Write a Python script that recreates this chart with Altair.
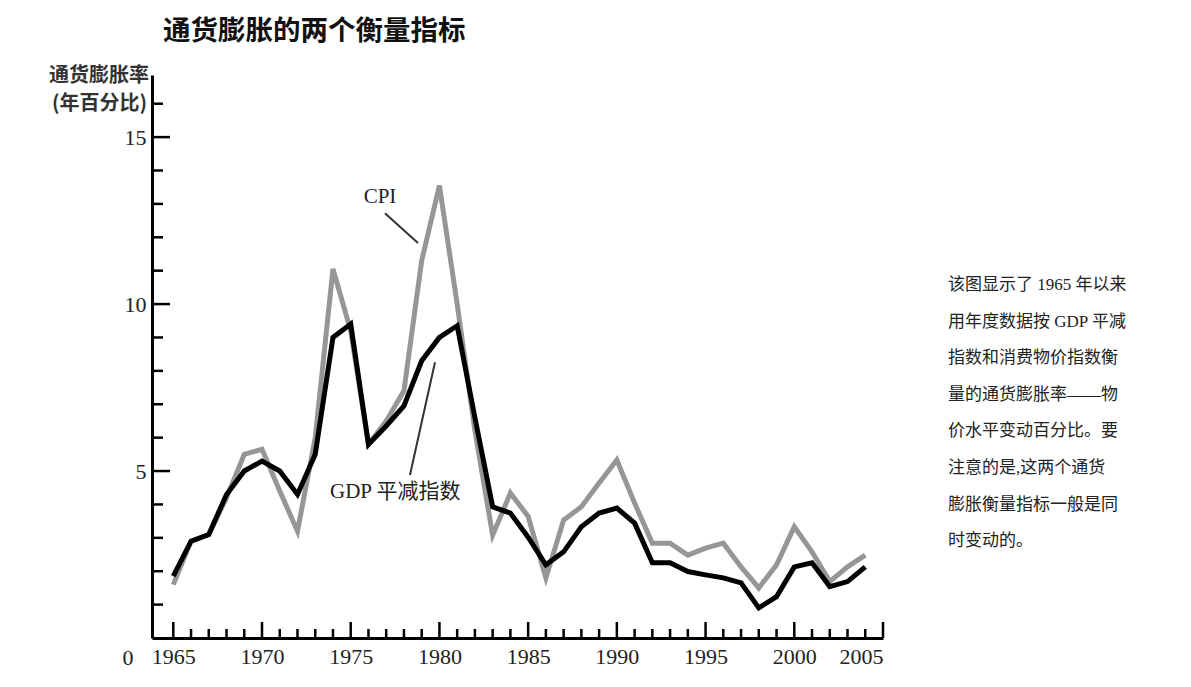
import altair as alt
import pandas as pd

# ---- data ----
years = list(range(1965, 2005))
gdp_deflator = [1.85, 2.9, 3.1, 4.3, 5.0, 5.3, 5.0, 4.3, 5.5, 9.0,
                9.4, 5.8, 6.35, 6.95, 8.3, 9.0, 9.35, 6.6, 3.93, 3.74,
                3.02, 2.19, 2.58, 3.33, 3.74, 3.89, 3.44, 2.25, 2.25, 1.99,
                1.89, 1.8, 1.65, 0.9, 1.24, 2.13, 2.25, 1.54, 1.69, 2.13]
cpi = [1.6, 2.9, 3.1, 4.2, 5.5, 5.65, 4.4, 3.2, 6.0, 11.05,
       9.2, 5.8, 6.5, 7.4, 11.3, 13.55, 10.0, 6.2, 3.08, 4.34,
       3.64, 1.8, 3.53, 3.93, 4.64, 5.33, 4.04, 2.84, 2.84, 2.48,
       2.69, 2.84, 2.13, 1.5, 2.19, 3.33, 2.58, 1.69, 2.13, 2.48]

x_label_values = [1965, 1970, 1975, 1980, 1985, 1990, 1995, 2000, 2005]
y_label_values = [5, 10, 15]
x_tick_years = list(range(1965, 2006))
y_tick_values = list(range(1, 17))

ann_text = ["CPI", "GDP 平减指数"]
ann_x = [1976.65, 1973.83]
ann_y = [13.2, 4.37]
leader_x = [1976.93, 1979.75]
leader_y = [12.72, 8.26]
leader_x2 = [1978.79, 1978.34]
leader_y2 = [11.83, 4.88]

title_text = "通货膨胀的两个衡量指标"
ytitle_lines = ["通货膨胀率", "(年百分比)"]
note_lines = ["该图显示了 1965 年以来", "用年度数据按 GDP 平减", "指数和消费物价指数衡",
              "量的通货膨胀率——物", "价水平变动百分比。要", "注意的是,这两个通货",
              "膨胀衡量指标一般是同", "时变动的。"]

W, H = 731, 563
SERIF = "Liberation Serif, Noto Sans CJK SC"
CJK = "Noto Sans CJK SC"

df = pd.DataFrame({"year": years, "gdp": gdp_deflator, "cpi": cpi})
xt = pd.DataFrame({"year": x_tick_years})
yt = pd.DataFrame({"v": y_tick_values})
ann = pd.DataFrame({"t": ann_text, "year": ann_x, "v": ann_y})
lead = pd.DataFrame({"year": leader_x, "v": leader_y, "x2": leader_x2, "y2": leader_y2})

xs = alt.Scale(domain=[1963.8, 2005], nice=False, zero=False)
ys = alt.Scale(domain=[0, 16.86], nice=False)

x_axis = alt.Axis(values=x_label_values, format="d", ticks=False, grid=False, title=None,
                  domainColor="black", domainWidth=3, labelFont="Liberation Serif",
                  labelFontSize=22, labelColor="#222", labelPadding=8)
y_axis = alt.Axis(values=y_label_values, format="d", ticks=False, grid=False, title=None,
                  domainColor="black", domainWidth=3, labelFont="Liberation Serif",
                  labelFontSize=22, labelColor="#222", labelPadding=6)


def X(field):
    return alt.X(field, type="quantitative", scale=xs, axis=x_axis)


def Y(field):
    return alt.Y(field, type="quantitative", scale=ys, axis=y_axis)


base = alt.Chart(df)
cpi_line = base.mark_line(color="#969696", strokeWidth=5, strokeJoin="miter").encode(
    x=X("year"), y=Y("cpi"))
gdp_line = base.mark_line(color="black", strokeWidth=5, strokeJoin="miter").encode(
    x=X("year"), y=Y("gdp"))

major_x = alt.Chart(xt).transform_filter("datum.year % 5 == 0").mark_rule(color="black", strokeWidth=2.5).encode(
    x=X("year"), y=alt.value(H), y2=alt.value(H - 16))
minor_x = alt.Chart(xt).transform_filter("datum.year % 5 != 0").mark_rule(color="black", strokeWidth=2.5).encode(
    x=X("year"), y=alt.value(H), y2=alt.value(H - 9))
major_y = alt.Chart(yt).transform_filter("datum.v % 5 == 0").mark_rule(color="black", strokeWidth=2.5).encode(
    y=Y("v"), x=alt.value(0), x2=alt.value(18))
minor_y = alt.Chart(yt).transform_filter("datum.v % 5 != 0").mark_rule(color="black", strokeWidth=2.5).encode(
    y=Y("v"), x=alt.value(0), x2=alt.value(11))

ann_cpi = alt.Chart(ann).transform_filter("datum.t == 'CPI'").mark_text(
    font=SERIF, fontSize=21, color="#222", align="center", baseline="middle").encode(
    x=X("year"), y=Y("v"), text="t:N")
ann_gdp = alt.Chart(ann).transform_filter("datum.t != 'CPI'").mark_text(
    font=SERIF, fontSize=21, color="#222", align="left", baseline="middle").encode(
    x=X("year"), y=Y("v"), text="t:N")
leaders = alt.Chart(lead).mark_rule(color="#333", strokeWidth=2).encode(
    x=X("year"), y=Y("v"), x2="x2:Q", y2="y2:Q")

title = alt.Chart(pd.DataFrame({"t": [title_text]})).mark_text(
    font=CJK, fontSize=27.5, fontWeight="bold", color="#111", align="left", baseline="middle").encode(
    text="t:N", x=alt.value(11), y=alt.value(-43))
yt1 = alt.Chart(pd.DataFrame({"t": [ytitle_lines[0]]})).mark_text(
    font=CJK, fontSize=20, fontWeight="bold", color="#333", align="right", baseline="middle").encode(
    text="t:N", x=alt.value(-3), y=alt.value(1))
yt2 = alt.Chart(pd.DataFrame({"t": [ytitle_lines[1]]})).mark_text(
    font=CJK, fontSize=20, fontWeight="bold", color="#333", align="right", baseline="middle").encode(
    text="t:N", x=alt.value(-5), y=alt.value(29))
zero = alt.Chart(pd.DataFrame({"t": ["0"]})).mark_text(
    font="Liberation Serif", fontSize=22, color="#222", align="center", baseline="middle").encode(
    text="t:N", x=alt.value(-24), y=alt.value(H + 20))
note = alt.Chart(pd.DataFrame({"t": ["\n".join(note_lines)]})).mark_text(
    font=SERIF, fontSize=17, color="#222", align="left", baseline="middle",
    lineBreak="\n", lineHeight=36.6).encode(
    text="t:N", x=alt.value(796), y=alt.value(210))

chart = alt.layer(
    cpi_line, gdp_line, major_x, minor_x, major_y, minor_y,
    ann_cpi, ann_gdp, leaders, title, yt1, yt2, zero, note
).properties(
    width=W, height=H,
    autosize=alt.AutoSizeParams(type="none"),
    padding={"left": 144, "top": 67, "right": 300, "bottom": 42},
    background="white",
).configure_view(stroke=None)

chart.save("out.html", embed_options={"renderer": "svg", "actions": False})
